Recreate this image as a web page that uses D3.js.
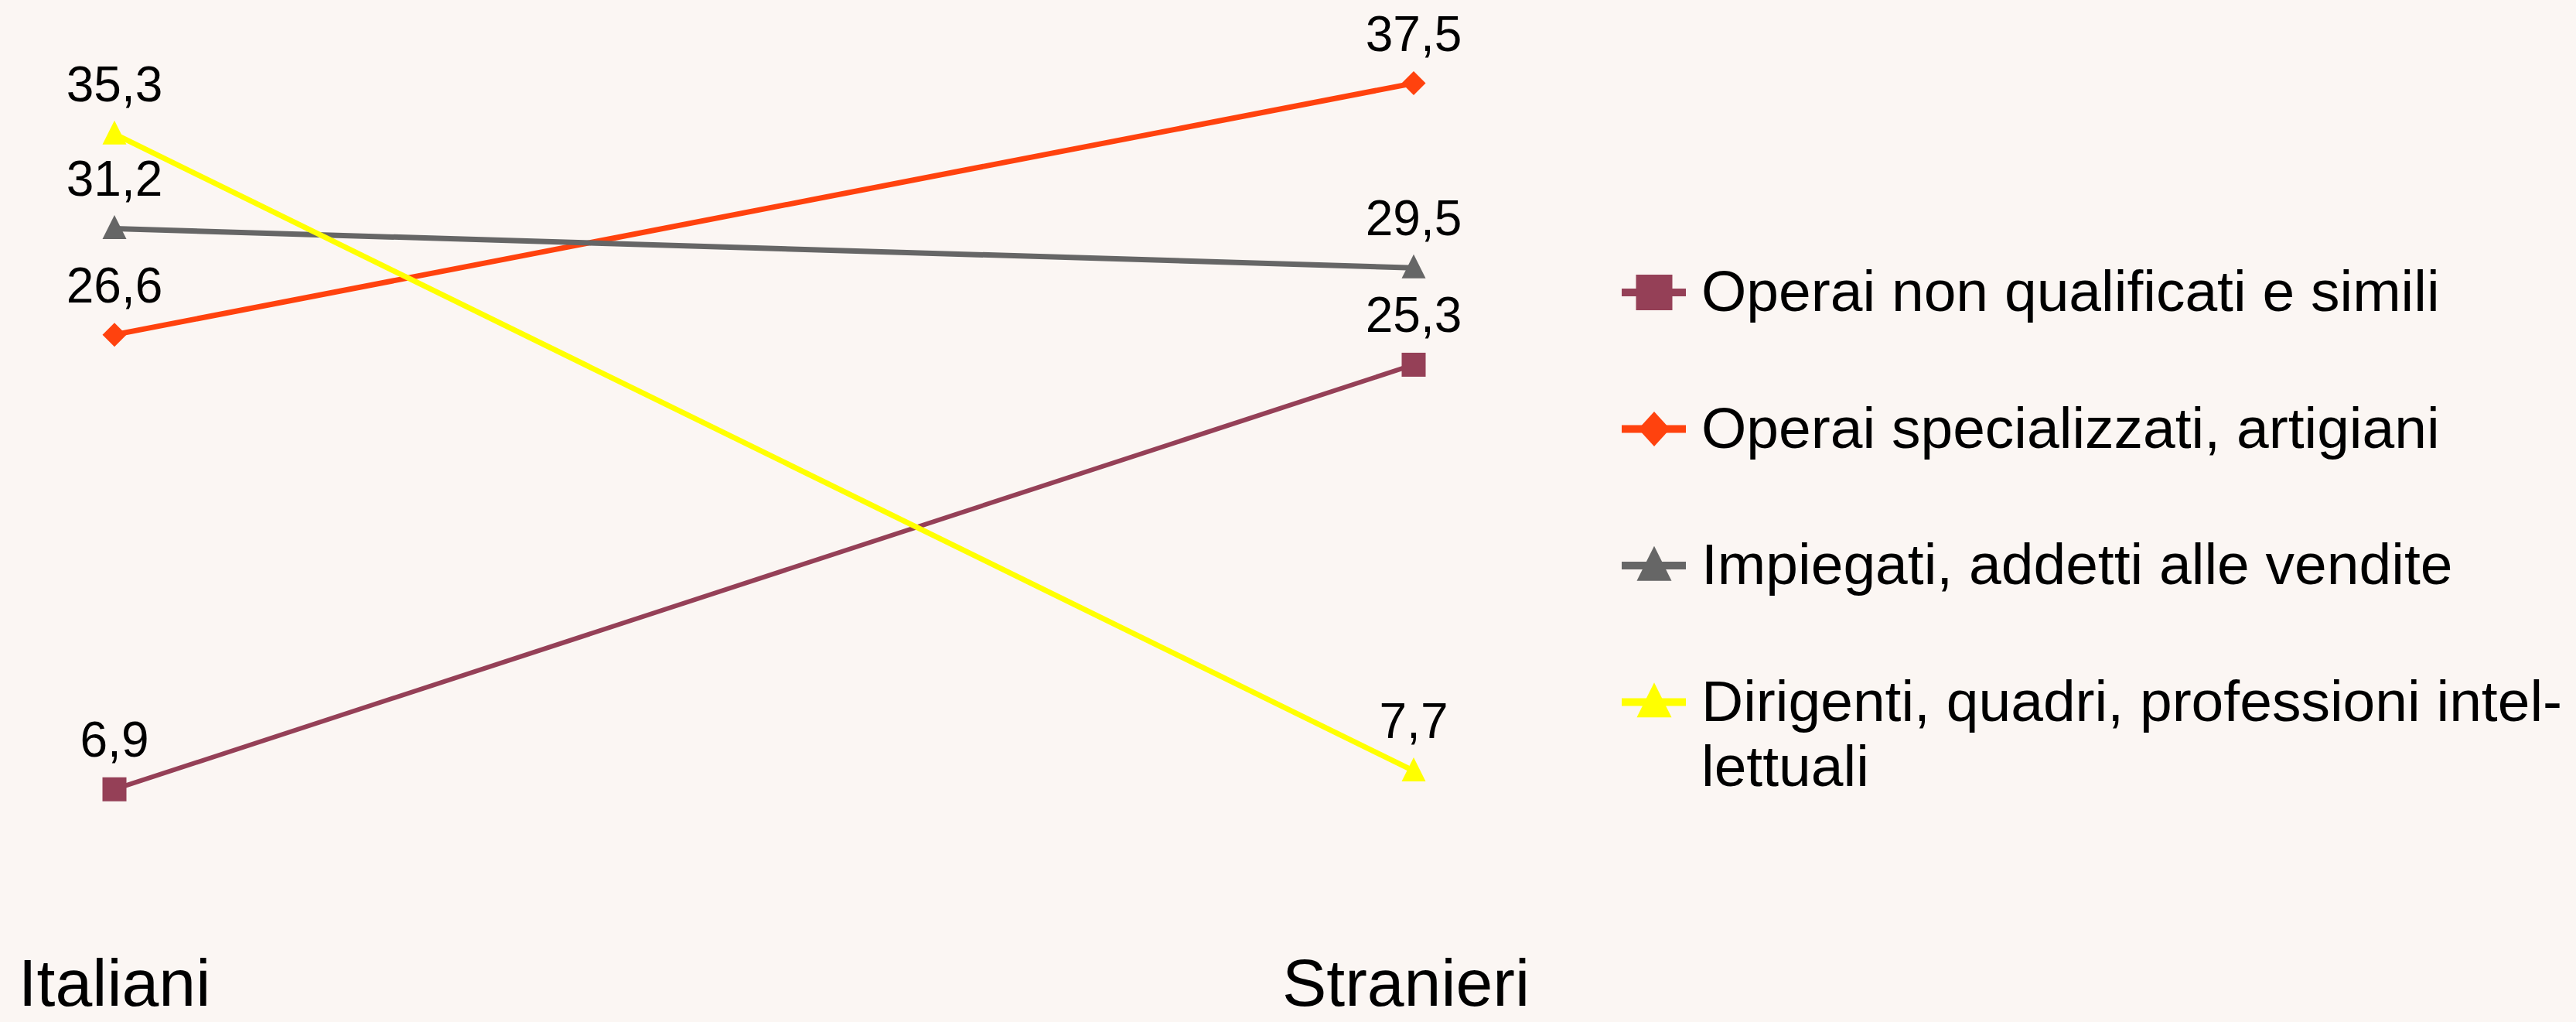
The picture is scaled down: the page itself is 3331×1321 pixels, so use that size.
<!DOCTYPE html>
<html>
<head>
<meta charset="utf-8">
<script src="https://cdn.jsdelivr.net/npm/d3@7"></script>
<style>
html,body{margin:0;padding:0;background:#FBF6F3;}
svg{display:block;}
text{font-family:"Liberation Sans",Arial,sans-serif;fill:#000;}
</style>
</head>
<body>
<script>
const categories = ["Italiani", "Stranieri"];
const seriesNames = [
  ["Operai non qualificati e simili"],
  ["Operai specializzati, artigiani"],
  ["Impiegati, addetti alle vendite"],
  ["Dirigenti, quadri, professioni intel-", "lettuali"]
];
const operaiNonQualificati = [6.9, 25.3];
const operaiSpecializzati = [26.6, 37.5];
const impiegati = [31.2, 29.5];
const dirigenti = [35.3, 7.7];

const W = 3331, H = 1321;
const series = [
  {name: seriesNames[0], values: operaiNonQualificati, color: "#954057", shape: "square", lw: 6},
  {name: seriesNames[1], values: operaiSpecializzati, color: "#FF420E", shape: "diamond", lw: 7},
  {name: seriesNames[2], values: impiegati, color: "#666666", shape: "triangle", lw: 7},
  {name: seriesNames[3], values: dirigenti, color: "#FFFF00", shape: "triangle", lw: 7}
];

const svg = d3.select("body").append("svg").attr("width", W).attr("height", H);
svg.append("rect").attr("width", W).attr("height", H).attr("fill", "#FBF6F3");

const x = d3.scalePoint().domain(categories).range([148, 1828]);
const y = d3.scaleLinear().domain([0, 40]).range([1226, 33]);

function marker(g, shape, color, cx, cy, s) {
  if (shape === "square") {
    g.append("rect").attr("x", cx - s.w/2).attr("y", cy - s.h/2)
      .attr("width", s.w).attr("height", s.h).attr("fill", color);
  } else if (shape === "diamond") {
    g.append("path").attr("d", `M${cx},${cy - s.h/2}L${cx + s.w/2},${cy}L${cx},${cy + s.h/2}L${cx - s.w/2},${cy}Z`).attr("fill", color);
  } else {
    g.append("path").attr("d", `M${cx},${cy - s.h*0.56}L${cx + s.w/2},${cy + s.h*0.44}L${cx - s.w/2},${cy + s.h*0.44}Z`).attr("fill", color);
  }
}

const line = d3.line().x((d, i) => x(categories[i])).y(d => y(d));

const plot = svg.append("g");
series.forEach(s => {
  plot.append("path").datum(s.values).attr("d", line)
    .attr("fill", "none").attr("stroke", s.color).attr("stroke-width", s.lw);
});
series.forEach(s => {
  s.values.forEach((v, i) => {
    marker(plot, s.shape, s.color, x(categories[i]), y(v), {w: 31, h: 31});
    plot.append("text").attr("x", x(categories[i])).attr("y", y(v) - 42)
      .attr("text-anchor", "middle").attr("font-size", 64)
      .text(d3.format(".1f")(v).replace(".", ","));
  });
});

// category labels
svg.append("g").selectAll("text").data(categories).join("text")
  .attr("x", (d, i) => x(d) - (i === 1 ? 10 : 0)).attr("y", 1300).attr("text-anchor", "middle")
  .attr("font-size", 86).text(d => d);

// legend
const legend = svg.append("g");
const legendY0 = 378, legendStep = 176.5;
series.forEach((s, i) => {
  const cy = legendY0 + i * legendStep;
  legend.append("line").attr("x1", 2097).attr("x2", 2180).attr("y1", cy).attr("y2", cy)
    .attr("stroke", s.color).attr("stroke-width", 10);
  const sz = s.shape === "square" ? {w: 47, h: 46} : s.shape === "diamond" ? {w: 41, h: 45} : {w: 45, h: 45};
  marker(legend, s.shape, s.color, 2139, cy, sz);
  const t = legend.append("text").attr("x", 2200).attr("y", cy + 24).attr("font-size", 75);
  s.name.forEach((ln, j) => {
    t.append("tspan").attr("x", 2200).attr("dy", j === 0 ? 0 : 84).text(ln);
  });
});
</script>
</body>
</html>
